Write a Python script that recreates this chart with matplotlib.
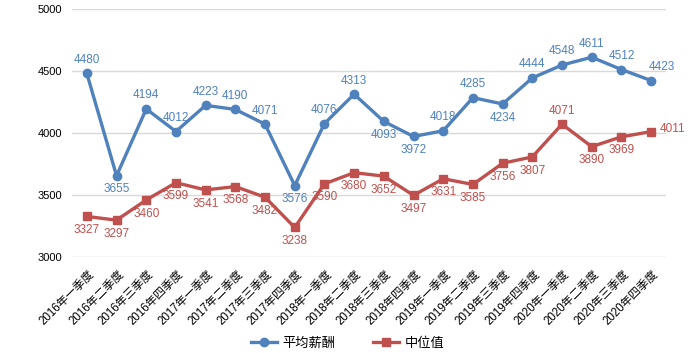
import matplotlib
matplotlib.use('Agg')
import matplotlib.pyplot as plt
import matplotlib.transforms as mtransforms
from matplotlib.lines import Line2D

plt.rcParams['font.family'] = ['Liberation Sans', 'Noto Sans CJK SC']

quarters = ['2016年一季度', '2016年二季度', '2016年三季度', '2016年四季度',
            '2017年一季度', '2017年二季度', '2017年三季度', '2017年四季度',
            '2018年一季度', '2018年二季度', '2018年三季度', '2018年四季度',
            '2019年一季度', '2019年二季度', '2019年三季度', '2019年四季度',
            '2020年一季度', '2020年二季度', '2020年三季度', '2020年四季度']
avg_salary = [4480, 3655, 4194, 4012, 4223, 4190, 4071, 3576, 4076, 4313,
              4093, 3972, 4018, 4285, 4234, 4444, 4548, 4611, 4512, 4423]
median_salary = [3327, 3297, 3460, 3599, 3541, 3568, 3482, 3238, 3590, 3680,
                 3652, 3497, 3631, 3585, 3756, 3807, 4071, 3890, 3969, 4011]

# where each data label sits relative to its point
avg_label_pos = ['up', 'down', 'up', 'up', 'up', 'up', 'up', 'down', 'up', 'up',
                 'down', 'down', 'up', 'up', 'down', 'up', 'up', 'up', 'up', 'upright']
median_label_pos = ['down'] * 16 + ['up', 'down', 'down', 'right']

blue = '#4F81BD'
red = '#C0504D'

fig = plt.figure(figsize=(6.95, 3.53), dpi=100)
ax = fig.add_axes([0.1036, 0.272, 0.8546, 0.7025])

x = range(len(quarters))
ax.plot(x, avg_salary, color=blue, lw=2.4, marker='o', ms=6, zorder=3)
ax.plot(x, median_salary, color=red, lw=2.4, marker='s', ms=6, zorder=3)


def add_labels(values, positions, color):
    for i, (v, p) in enumerate(zip(values, positions)):
        if p == 'up':
            off, ha, va = (0, 5.5), 'center', 'bottom'
        elif p == 'down':
            off, ha, va = (0, -5.5), 'center', 'top'
        elif p == 'upright':
            off, ha, va = (-2, 5.5), 'left', 'bottom'
        else:
            off, ha, va = (6, 2), 'left', 'center'
        ax.annotate(str(v), (i, v), xytext=off, textcoords='offset points',
                    ha=ha, va=va, color=color, fontsize=8.5)


add_labels(avg_salary, avg_label_pos, blue)
add_labels(median_salary, median_label_pos, red)

ax.set_xlim(-0.5, len(quarters) - 0.5)
ax.set_ylim(3000, 5000)
ax.set_yticks(range(3000, 5001, 500))
ax.grid(axis='y', color='#D9D9D9', lw=1)
ax.set_axisbelow(True)
for s in ax.spines.values():
    s.set_visible(False)
ax.tick_params(axis='both', length=0)
ax.tick_params(axis='y', labelsize=8, pad=7)

ax.set_xticks(list(x))
ax.set_xticklabels(quarters, rotation=45, ha='right', va='center',
                   rotation_mode='anchor', fontsize=8.3)
ax.tick_params(axis='x', pad=11)
shift = mtransforms.ScaledTranslation(4 / 72, 0, fig.dpi_scale_trans)
for lab in ax.get_xticklabels():
    lab.set_transform(lab.get_transform() + shift)

handles = [Line2D([], [], color=blue, lw=2.4, marker='o', ms=6),
           Line2D([], [], color=red, lw=2.4, marker='s', ms=6)]
fig.legend(handles, ['平均薪酬', '中位值'], loc='lower center', ncol=2,
           bbox_to_anchor=(0.5, -0.025), frameon=False, fontsize=9.5,
           handlelength=2.0, handletextpad=0.4, columnspacing=2.8)

fig.savefig('out.png', dpi=100)
